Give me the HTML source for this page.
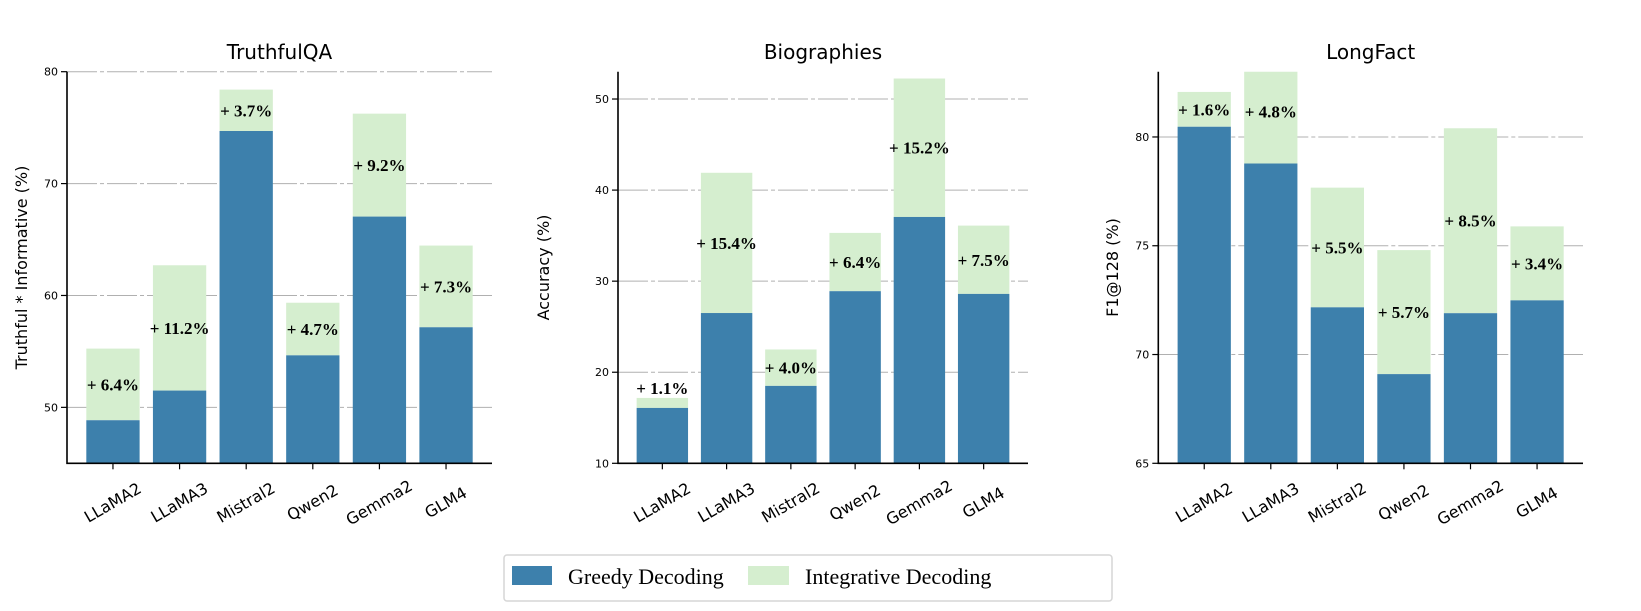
<!DOCTYPE html>
<html><head><meta charset="utf-8"><style>
body{margin:0;background:#fff}
svg{display:block}
text{font-family:"DejaVu Sans","Liberation Sans",sans-serif}
.val{font-family:"Liberation Serif",serif;font-weight:bold;font-size:17px}
</style></head><body>
<svg id="fig" width="1641" height="611" viewBox="0 0 1641 611" xmlns="http://www.w3.org/2000/svg">
<g>
<rect x="504" y="555" width="608" height="46" rx="3" fill="#fff" stroke="#d6d6d6" stroke-width="1.5"/>
<rect x="512" y="566" width="40" height="19" fill="#3d80ac"/>
<text x="568" y="584" font-size="22" style="font-family:'Liberation Serif',serif">Greedy Decoding</text>
<rect x="748" y="566" width="41" height="19" fill="#d5eecf"/>
<text x="805" y="584" font-size="22" style="font-family:'Liberation Serif',serif">Integrative Decoding</text>
</g>
</svg>
<script>
const categories = ["LLaMA2","LLaMA3","Mistral2","Qwen2","Gemma2","GLM4"];
const tqaGreedy = [48.85, 51.5, 74.7, 54.65, 67.05, 57.16];
const tqaGain = [6.4, 11.2, 3.7, 4.7, 9.2, 7.3];
const tqaTicks = [50, 60, 70, 80];
const bioGreedy = [16.08, 26.5, 18.5, 28.9, 37.05, 28.6];
const bioGain = [1.1, 15.4, 4.0, 6.4, 15.2, 7.5];
const bioTicks = [10, 20, 30, 40, 50];
const lfGreedy = [80.47, 78.78, 72.17, 69.1, 71.9, 72.49];
const lfGain = [1.6, 4.8, 5.5, 5.7, 8.5, 3.4];
const lfTicks = [65, 70, 75, 80];

const NS = "http://www.w3.org/2000/svg";
const svg = document.getElementById("fig");
function mk(tag, attrs, parent){
  const e = document.createElementNS(NS, tag);
  for (const k in attrs) e.setAttribute(k, attrs[k]);
  (parent||svg).appendChild(e);
  return e;
}
function panel(cfg){
  const g = mk("g", {});
  
  
  const L = cfg.left, R = cfg.right, T = 71.7, B = 463.3;
  const y = v => B - (v - cfg.ymin) / (cfg.ymax - cfg.ymin) * (B - T);
  const xmin = -0.69, xmax = categories.length - 1 + 0.69;
  const x = i => L + (i - xmin) / (xmax - xmin) * (R - L);
  const bw = 0.8 * (x(1) - x(0));
  const cid = cfg.name + "-clip";
  const defs = mk("defs", {}, g);
  const cp = mk("clipPath", {id: cid}, defs);
  mk("rect", {x: L, y: T, width: R - L, height: B - T}, cp);
  cfg.ticks.forEach(t => {
    if (t === cfg.ymin) return;
    const gl = mk("line", {x1: L, x2: R, y1: y(t), y2: y(t), stroke: "#b0b0b0", "stroke-width": 1, "stroke-dasharray": "30 3 4 3"}, g);
    
    
  });
  const bars = mk("g", {"clip-path": "url(#" + cid + ")"}, g);
  categories.forEach((c, i) => {
    const top = cfg.greedy[i] + cfg.gain[i];
    const r1 = mk("rect", {x: x(i) - bw/2, y: y(top), width: bw, height: y(cfg.greedy[i]) - y(top), fill: "#d5eecf"}, bars);
    
    
    const r2 = mk("rect", {x: x(i) - bw/2, y: y(cfg.greedy[i]), width: bw, height: B - y(cfg.greedy[i]), fill: "#3d80ac"}, bars);
    
    
    const hpx = y(cfg.greedy[i]) - y(top);
    let ly = (y(top) + y(cfg.greedy[i])) / 2 + 6;
    if (hpx < 20) ly = y(top) - 4;
    const tv = mk("text", {x: x(i), y: ly, "text-anchor": "middle", class: "val"}, g);
    tv.textContent = "+ " + cfg.gain[i].toFixed(1) + "%";
    
    
    const tk = mk("line", {x1: x(i), x2: x(i), y1: B, y2: B + 6, stroke: "#000", "stroke-width": 1.2}, g);
    
    
    const cx = x(i), cy = 503;
    const xl = mk("text", {x: cx, y: cy + 5, "text-anchor": "middle", "font-size": 16, transform: "rotate(-30 " + cx + " " + cy + ")"}, g);
    xl.textContent = c;
    
    
  });
  cfg.ticks.forEach(t => {
    const tk = mk("line", {x1: L - 6, x2: L, y1: y(t), y2: y(t), stroke: "#000", "stroke-width": 1.2}, g);
    
    
    const tl = mk("text", {x: L - 9, y: y(t) + 4, "text-anchor": "end", "font-size": 11}, g);
    tl.textContent = t;
    
    
  });
  const ax = mk("path", {d: "M" + L + " " + T + " V" + B + " H" + R, fill: "none", stroke: "#000", "stroke-width": 1.6}, g);
  
  
  const ti = mk("text", {x: (L + R) / 2, y: 59, "text-anchor": "middle", "font-size": 20}, g);
  ti.textContent = cfg.title;
  
  
  const yl = mk("text", {x: cfg.ylx, y: (T + B) / 2, "text-anchor": "middle", "font-size": 16, transform: "rotate(-90 " + cfg.ylx + " " + (T + B) / 2 + ")"}, g);
  yl.textContent = cfg.ylabel;
  
  
}
panel({name: "truthfulqa", title: "TruthfulQA", ylabel: "Truthful * Informative (%)", left: 67, right: 492, ymin: 45, ymax: 80, ticks: tqaTicks, greedy: tqaGreedy, gain: tqaGain, ylx: 27});
panel({name: "biographies", title: "Biographies", ylabel: "Accuracy (%)", left: 618, right: 1028, ymin: 10, ymax: 53, ticks: bioTicks, greedy: bioGreedy, gain: bioGain, ylx: 549});
panel({name: "longfact", title: "LongFact", ylabel: "F1@128 (%)", left: 1158.3, right: 1583, ymin: 65, ymax: 83, ticks: lfTicks, greedy: lfGreedy, gain: lfGain, ylx: 1118});
</script>
</body></html>
